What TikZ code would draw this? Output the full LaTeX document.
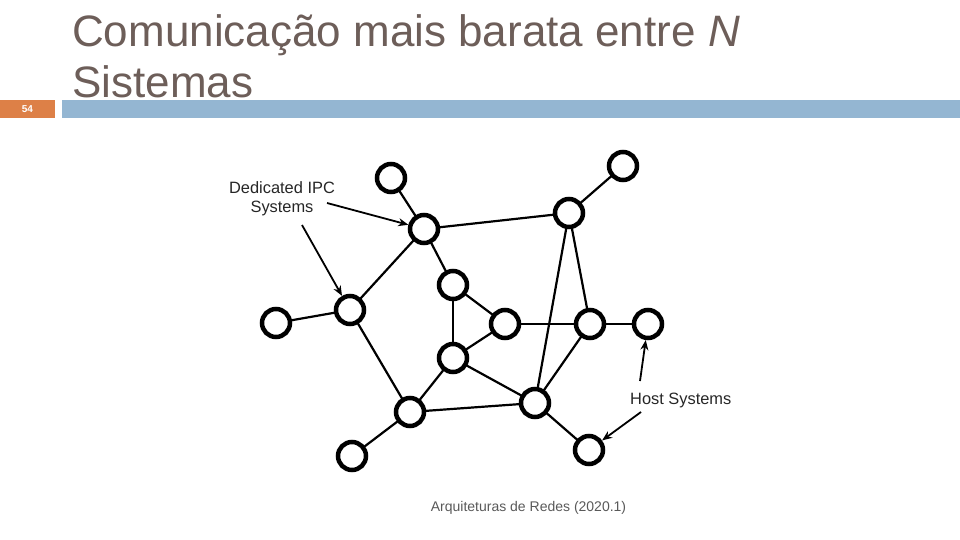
\documentclass[tikz,border=0pt]{standalone}
\usepackage{fontspec}
\setmainfont{Liberation Sans}
\usetikzlibrary{arrows.meta}
\definecolor{titlegray}{HTML}{6D5E59}
\definecolor{barblue}{HTML}{94B6D2}
\definecolor{barorange}{HTML}{DD8047}
\definecolor{footgray}{HTML}{595959}
\pgfdeclarelayer{bg}
\pgfsetlayers{bg,main}
\tikzset{
  sys/.style={circle, draw=black, line width=4.5pt, fill=white, minimum size=28pt, inner sep=0pt},
  link/.style={line width=2.2pt, black},
  callout/.style={line width=1.8pt, black, -{Stealth[length=10pt,width=8pt]}},
  lbl/.style={inner sep=0pt, text=black!85, font=\fontsize{16.4}{19}\selectfont, align=center},
  ttl/.style={anchor=base west, inner sep=0pt, text=titlegray, font=\fontsize{44}{50}\selectfont},
}
\begin{document}
\begin{tikzpicture}[x=1pt,y=-1pt]
\useasboundingbox (0,0) rectangle (960,540);
% header
\fill[barorange] (0,100) rectangle (55,118);
\fill[barblue] (62,100) rectangle (960,118);
\node[text=white, font=\fontsize{10}{12}\selectfont\bfseries, inner sep=0pt] (pg) at (27.5,109.5) {54};
\node[ttl] (t1) at (72,47) {Comunicação mais barata entre \textit{N}};
\node[ttl] (t2) at (72,98) {Sistemas};
% footer
\node[text=footgray, font=\fontsize{14}{16}\selectfont, inner sep=0pt] (foot) at (528.5,508) {Arquiteturas de Redes (2020.1)};
% nodes
\node[sys] (A) at (391,178) {};
\node[sys] (B) at (424,229) {};
\node[sys] (C) at (569,213) {};
\node[sys] (D) at (623,166) {};
\node[sys] (E) at (453,285) {};
\node[sys] (F) at (350,310) {};
\node[sys] (G) at (276,323) {};
\node[sys] (H) at (505,324) {};
\node[sys] (I) at (590,324) {};
\node[sys] (J) at (648,324) {};
\node[sys] (K) at (453,358) {};
\node[sys] (L) at (535,403) {};
\node[sys] (M) at (410,412) {};
\node[sys] (N) at (352,456) {};
\node[sys] (O) at (589,450) {};
% links
\begin{pgfonlayer}{bg}
\foreach \a/\b in {A/B, B/C, C/D, B/F, B/E, F/G, F/M, E/K, E/H, H/K, H/I, I/J, C/I, C/L, I/L, K/L, K/M, M/L, M/N, L/O}
  \draw[link] (\a.center) -- (\b.center);
\end{pgfonlayer}
% labels
\node[lbl] (ipc) at (282,199) {Dedicated IPC\\Systems};
\node[lbl, anchor=west] (host) at (630,400) {Host Systems};
\coordinate (s1) at (327,203);
\coordinate (s2) at (302,225);
\coordinate (s3) at (640,381);
\coordinate (s4) at (641,412);
\draw[callout] (s1) -- (B);
\draw[callout] (s2) -- (F);
\draw[callout] (s3) -- (J);
\draw[callout] (s4) -- (O);
\end{tikzpicture}
\end{document}
